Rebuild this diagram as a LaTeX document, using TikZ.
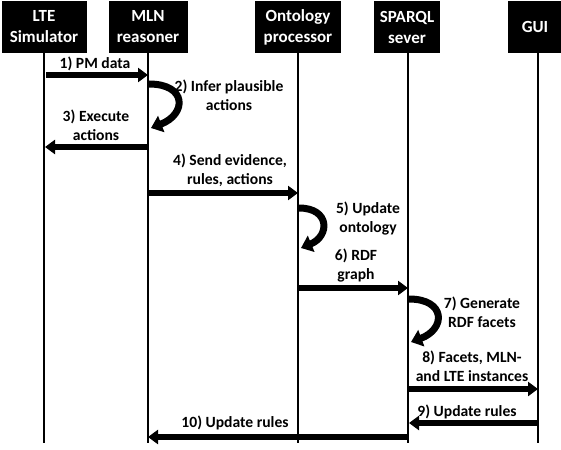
\documentclass[tikz,border=0pt]{standalone}
\usepackage{fontspec}
\setmainfont{Carlito}
\usetikzlibrary{arrows.meta}

\begin{document}
\begin{tikzpicture}[x=1pt,y=-1pt,
	actor/.style={fill=black,text=white,font=\bfseries\fontsize{17}{21}\selectfont,align=center,inner sep=0pt,minimum height=52pt},
	lbl/.style={font=\bfseries\fontsize{15.6}{19}\selectfont,align=center,inner sep=0pt},
	msg/.style={line width=5.5pt,-{Triangle[length=10pt,width=14pt]}},
	self/.style={line width=7pt,-{Triangle[length=11pt,width=17pt]}},
	life/.style={line width=1.4pt}]
		\useasboundingbox (0,0) rectangle (561,449);

		\node (lte) [actor, minimum width=85pt] at (44,27) {LTE\\Simulator};
		\node (mln) [actor, minimum width=79pt] at (148,27) {MLN\\reasoner};
		\node (ont) [actor, minimum width=86pt] at (298,27) {Ontology\\processor};
		\node (spq) [actor, minimum width=66pt] at (407,27) {SPARQL\\sever};
		\node (gui) [actor, minimum width=54pt] at (535,27) {GUI};

		\coordinate (lteEnd) at (44,443);
		\coordinate (mlnEnd) at (148,443);
		\coordinate (ontEnd) at (298,443);
		\coordinate (spqEnd) at (408,443);
		\coordinate (guiEnd) at (538,443);
		\draw[life] (lte.south) -- (lteEnd);
		\draw[life] (mln.south) -- (mlnEnd);
		\draw[life] (ont.south) -- (ontEnd);
		\draw[life] (spq.south -| spqEnd) -- (spqEnd);
		\draw[life] (gui.south -| guiEnd) -- (guiEnd);

		\coordinate (pmS) at (46,75);   \coordinate (pmE) at (148,75);
		\draw[msg] (pmS) -- (pmE);
		\node (l1) [lbl] at (95,64) {1) PM data};

		\coordinate (infS) at (149,84); \coordinate (infE) at (151,128);
		\draw[self] (infS) .. controls (187,84) and (187,114) .. (infE);
		\node (l2) [lbl] at (229,95) {2) Infer plausible\\actions};

		\coordinate (exS) at (147,147); \coordinate (exE) at (45,147);
		\draw[msg] (exS) -- (exE);
		\node (l3) [lbl] at (96,125) {3) Execute\\actions};

		\coordinate (evS) at (149,193); \coordinate (evE) at (298,193);
		\draw[msg] (evS) -- (evE);
		\node (l4) [lbl] at (230,170) {4) Send evidence,\\rules, actions};

		\coordinate (updS) at (299,208); \coordinate (updE) at (301,248);
		\draw[self] (updS) .. controls (330,208) and (330,236) .. (updE);
		\node (l5) [lbl] at (368,219) {5) Update\\ontology};

		\coordinate (rdfS) at (299,288); \coordinate (rdfE) at (408,288);
		\draw[msg] (rdfS) -- (rdfE);
		\node (l6) [lbl] at (356,266) {6) RDF\\graph};

		\coordinate (genS) at (409,299); \coordinate (genE) at (411,342);
		\draw[self] (genS) .. controls (446,299) and (446,329) .. (genE);
		\node (l7) [lbl] at (482,312) {7) Generate\\RDF facets};

		\coordinate (facS) at (409,389); \coordinate (facE) at (538,389);
		\draw[msg] (facS) -- (facE);
		\node (l8) [lbl] at (472,366) {8) Facets, MLN-\\and LTE instances};

		\coordinate (ruS) at (538,423); \coordinate (ruE) at (409,423);
		\draw[msg] (ruS) -- (ruE);
		\node (l9) [lbl] at (467,412) {9) Update rules};

		\coordinate (rmS) at (408,437); \coordinate (rmE) at (148,437);
		\draw[msg] (rmS) -- (rmE);
		\node (l10) [lbl] at (235,423) {10) Update rules};

	\end{tikzpicture}
\end{document}
